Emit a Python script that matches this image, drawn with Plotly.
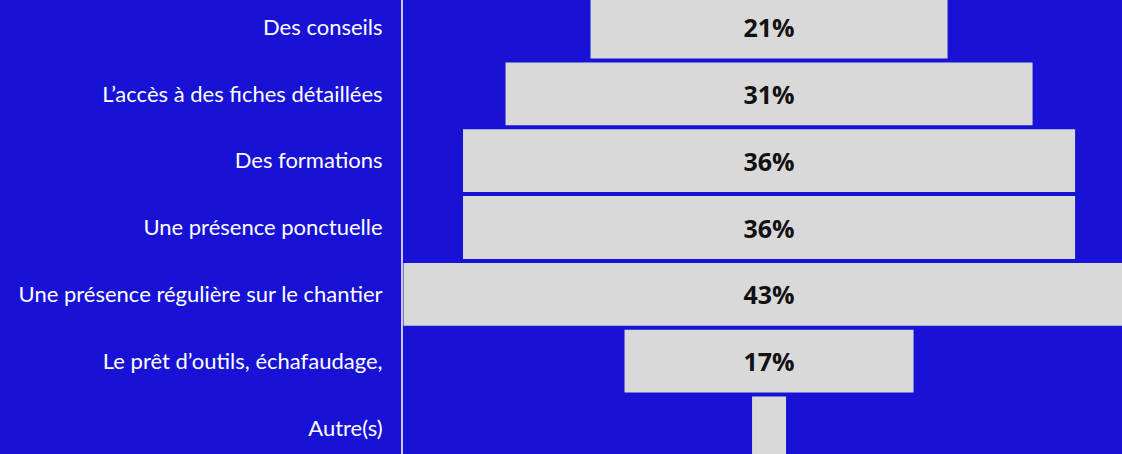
import plotly.graph_objects as go

categories = [
    "Des conseils",
    "L’accès à des fiches détaillées",
    "Des formations",
    "Une présence ponctuelle",
    "Une présence régulière sur le chantier",
    "Le prêt d’outils, échafaudage,",
    "Autre(s)",
]
values = [21, 31, 36, 36, 43, 17, 2]
labels = [f"{v}%" if v >= 5 else "" for v in values]

BG = "#1712d5"
BAR = "#d9d9d9"

fig = go.Figure(
    go.Bar(
        y=categories,
        x=values,
        base=[-v / 2 for v in values],
        orientation="h",
        marker=dict(color=BAR, line=dict(width=0)),
        width=0.94,
        text=labels,
        textposition="inside",
        insidetextanchor="middle",
        textangle=0,
        textfont=dict(family="Open Sans", size=25, color="#111111", weight="bold"),
        hoverinfo="skip",
    )
)

fig.update_layout(
    width=1122,
    height=454,
    margin=dict(l=403, r=0, t=0, b=0),
    paper_bgcolor=BG,
    plot_bgcolor=BG,
    showlegend=False,
)
fig.update_xaxes(
    range=[-21.53, 20.76],
    showgrid=False,
    zeroline=False,
    showticklabels=False,
    fixedrange=True,
)
fig.update_yaxes(
    categoryorder="array",
    categoryarray=categories,
    range=[6.389, -0.404],
    showgrid=False,
    zeroline=False,
    showline=True,
    linecolor="#c9c8f2",
    linewidth=2,
    ticks="",
    ticklabelstandoff=14,
    tickfont=dict(family="Lato", size=22, color="#ffffff"),
)

fig.write_html(
    "out.html",
    config={"displayModeBar": False},
    post_script="document.body.style.margin='0';document.body.style.overflow='hidden';",
)
